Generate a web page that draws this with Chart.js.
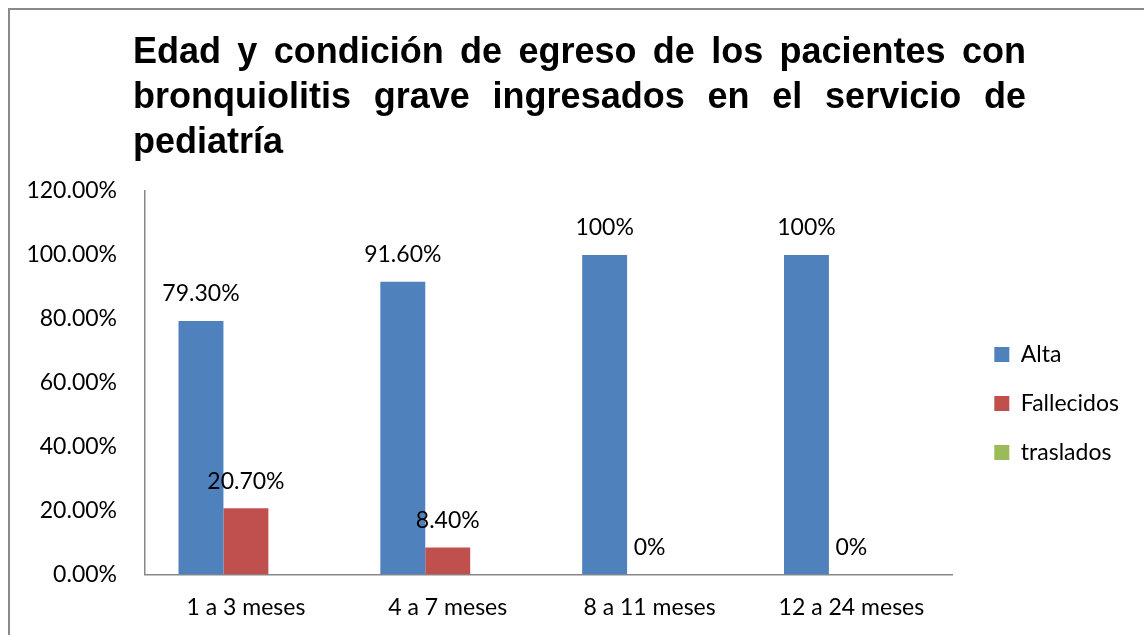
<!DOCTYPE html>
<html lang="es">
<head>
<meta charset="utf-8">
<title>Edad y condición de egreso</title>
<script src="https://cdn.jsdelivr.net/npm/chart.js@4.4.1/dist/chart.umd.min.js"></script>
<style>
  html, body { margin: 0; padding: 0; background: #fff; overflow: hidden; }
  #marco { position: absolute; left: 8px; top: 8px; width: 1200px; height: 700px;
           border-left: 2px solid #8a8a8a; border-top: 2px solid #8a8a8a; }
  #lienzo { position: absolute; left: 0; top: 0; width: 1144px; height: 635px; }
  #titulo { position: absolute; left: 133px; top: 28px; width: 893px; color: #000;
            font: bold 36px 'Liberation Sans', Arial, sans-serif; line-height: 45px; }
  #titulo .j { text-align: justify; text-align-last: justify; }
</style>
</head>
<body>
<div id="marco"></div>
<div id="lienzo"><canvas id="grafico"></canvas></div>
<div id="titulo">
  <div class="j">Edad y condición de egreso de los pacientes con</div>
  <div class="j">bronquiolitis grave ingresados en el servicio de</div>
  <div>pediatría</div>
</div>
<script>
  // Datos (en %)
  const categorias = ['1 a 3 meses', '4 a 7 meses', '8 a 11 meses', '12 a 24 meses'];
  const alta = [79.3, 91.6, 100, 100];
  const fallecidos = [20.7, 8.4, 0, 0];
  const traslados = [null, null, null, null];

  // Etiquetas de datos tal como aparecen
  const etiquetasAlta = ['79.30%', '91.60%', '100%', '100%'];
  const etiquetasFallecidos = ['20.70%', '8.40%', '0%', '0%'];
  const etiquetasTraslados = [null, null, null, null];

  const ejeMin = 0, ejeMax = 120, ejePaso = 20;

  const fuente = 'Lato';
  const etiquetas = [etiquetasAlta, etiquetasFallecidos, etiquetasTraslados];

  // Dibuja el valor encima de cada barra
  const etiquetasPlugin = {
    id: 'etiquetas',
    afterDatasetsDraw(chart) {
      const ctx = chart.ctx;
      ctx.save();
      ctx.font = '23px ' + fuente;
      ctx.fillStyle = '#000';
      ctx.textAlign = 'center';
      ctx.textBaseline = 'middle';
      chart.data.datasets.forEach((ds, i) => {
        const meta = chart.getDatasetMeta(i);
        meta.data.forEach((barra, j) => {
          const txt = etiquetas[i][j];
          if (txt == null) return;
          ctx.fillText(txt, barra.x, barra.y - 27);
        });
      });
      ctx.restore();
    }
  };

  // La leyenda queda un poco más arriba que el centro del lienzo
  const subirLeyenda = {
    id: 'subirLeyenda',
    afterLayout(chart) {
      chart.legend.top -= 12;
      chart.legend.bottom -= 12;
    }
  };

  const ctx = document.getElementById('grafico').getContext('2d');
  new Chart(ctx, {
    type: 'bar',
    data: {
      labels: categorias,
      datasets: [
        { label: 'Alta', data: alta, backgroundColor: '#4F81BD' },
        { label: 'Fallecidos', data: fallecidos, backgroundColor: '#C0504D' },
        { label: 'traslados', data: traslados, backgroundColor: '#9BBB59' }
      ]
    },
    options: {
      responsive: true,
      maintainAspectRatio: false,
      animation: false,
      categoryPercentage: 0.668,
      barPercentage: 1,
      layout: { padding: { top: 191, left: 0, right: 15, bottom: -5 } },
      plugins: {
        title: { display: false },
        tooltip: { enabled: false },
        legend: {
          position: 'right',
          labels: {
            boxWidth: 15,
            boxHeight: 15,
            padding: 26,
            color: '#000',
            font: { family: fuente, size: 23 }
          }
        }
      },
      scales: {
        x: {
          grid: { display: false, drawTicks: false },
          border: { display: true, color: '#888', width: 1.5 },
          ticks: { color: '#000', padding: 19, font: { family: fuente, size: 23 } }
        },
        y: {
          min: ejeMin,
          max: ejeMax,
          grid: { display: false, drawTicks: false },
          border: { display: true, color: '#888', width: 1.5 },
          ticks: {
            stepSize: ejePaso,
            color: '#000',
            padding: 28,
            font: { family: fuente, size: 23 },
            callback: v => v.toFixed(2) + '%'
          },
          afterFit: s => { s.width = 145; }
        },
        relleno: {
          type: 'linear',
          position: 'right',
          display: true,
          grid: { display: false, drawTicks: false },
          border: { display: false },
          ticks: { display: false },
          afterFit: s => { s.width = 16; }
        }
      }
    },
    plugins: [etiquetasPlugin, subirLeyenda]
  });
</script>
</body>
</html>
